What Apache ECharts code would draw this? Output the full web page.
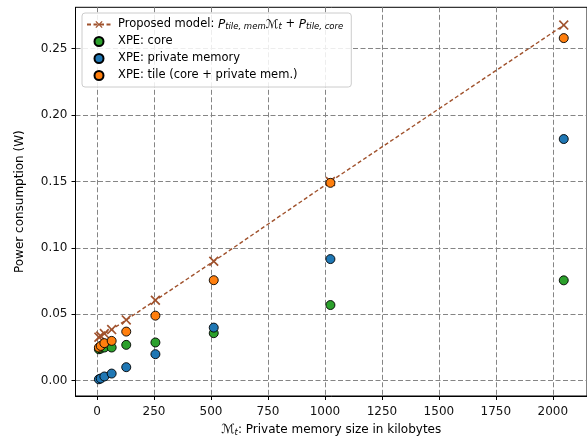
<!DOCTYPE html>
<html>
<head>
<meta charset="utf-8">
<script src="https://cdn.jsdelivr.net/npm/echarts@6/dist/echarts.min.js"></script>
<style>
html,body{margin:0;padding:0;background:#fff;}
#chart{width:587px;height:444px;}
</style>
</head>
<body>
<div id="chart"></div>
<script>
// Private memory sizes (kB)
const memSizes = [8, 16, 32, 64, 128, 256, 512, 1024, 2048];
// Proposed model power (W)
const modelPower = [0.0328, 0.0337, 0.0355, 0.0385, 0.0458, 0.0606, 0.0900, 0.1500, 0.2678];
// XPE: core (W)
const corePower = [0.0237, 0.0242, 0.0250, 0.0250, 0.0270, 0.0288, 0.0358, 0.0570, 0.0756];
// XPE: private memory (W)
const memPower = [0.0011, 0.0017, 0.0032, 0.0054, 0.0102, 0.0200, 0.0400, 0.0916, 0.1820];
// XPE: tile (W)
const tilePower = [0.0250, 0.0262, 0.0283, 0.0300, 0.0370, 0.0490, 0.0757, 0.1490, 0.2580];
// tick labels
const xTicks = [0, 250, 500, 750, 1000, 1250, 1500, 1750, 2000];
const yTicks = [0, 0.05, 0.10, 0.15, 0.20, 0.25];

const seriesNames = ['model', 'XPE: core', 'XPE: private memory', 'XPE: tile (core + private mem.)'];

const pairs = (xs, ys) => xs.map((x, i) => [x, ys[i]]);

const xMark = 'path://M0,1.2L1.2,0L5,3.8L8.8,0L10,1.2L6.2,5L10,8.8L8.8,10L5,6.2L1.2,10L0,8.8L3.8,5Z';
const FONT = 'DejaVu Sans';
const gridColor = '#858585';

const chart = echarts.init(document.getElementById('chart'), null, {renderer: 'canvas'});

function scatter(name, data, color, z) {
  return {
    name: name, type: 'scatter', data: data, z: z,
    symbol: 'circle', symbolSize: 9,
    itemStyle: {color: color, borderColor: '#000', borderWidth: 0.9, opacity: 1},
    emphasis: {disabled: true}
  };
}

chart.setOption({
  animation: false,
  backgroundColor: '#fff',
  grid: {left: 75.5, top: 7.3, right: -10, bottom: 48, show: true, borderColor: '#000', borderWidth: 1, backgroundColor: 'transparent'},
  legend: {
    orient: 'vertical', left: 82, top: 13,
    padding: [5, 8, 5, 4],
    itemWidth: 24, itemHeight: 9, itemGap: 4,
    backgroundColor: 'rgba(255,255,255,0.85)',
    borderColor: '#cccccc', borderWidth: 1, borderRadius: 3,
    data: seriesNames,
    textStyle: {
      fontFamily: FONT, fontSize: 11.5, color: '#000', lineHeight: 13, padding: [0, 0, 0, 2],
      rich: {
        n: {fontFamily: FONT, fontSize: 11.5, color: '#000', lineHeight: 13},
        i: {fontFamily: FONT, fontSize: 12, fontStyle: 'italic', color: '#000', lineHeight: 13},
        c: {fontFamily: FONT, fontSize: 12, color: '#000', lineHeight: 13},
        s: {fontFamily: FONT, fontSize: 8.5, fontStyle: 'italic', color: '#000', lineHeight: 13, verticalAlign: 'bottom', padding: [4, 0, 0, 0]}
      }
    },
    formatter: function (name) {
      if (name === 'model') {
        return '{n|Proposed model: }{i|P}{s|tile, mem}{c|ℳ}{s|t}{n| + }{i|P}{s|tile, core}';
      }
      return name;
    }
  },
  xAxis: {
    type: 'value', min: -94.7, max: 2150,
    name: '{c|ℳ}{s|t}{n|: Private memory size in kilobytes}',
    nameLocation: 'middle', nameGap: 27,
    nameTextStyle: {
      fontFamily: FONT, fontSize: 12, color: '#000',
      rich: {
        n: {fontFamily: FONT, fontSize: 12, color: '#000'},
        c: {fontFamily: FONT, fontSize: 12.5, color: '#000'},
        s: {fontFamily: FONT, fontSize: 8.5, fontStyle: 'italic', color: '#000', verticalAlign: 'bottom', padding: [5, 0, 0, 0]}
      }
    },
    axisLine: {show: true, onZero: false, lineStyle: {color: '#000', width: 1}},
    axisTick: {show: true, length: 4, lineStyle: {color: '#000'}, customValues: xTicks},
    axisLabel: {fontFamily: FONT, fontSize: 12, color: '#111', margin: 10, customValues: xTicks, formatter: v => String(Math.round(v))},
    splitLine: {show: true, lineStyle: {color: gridColor, type: [5, 2.5], width: 1}}
  },
  yAxis: {
    type: 'value', min: -0.0115, max: 0.2812,
    name: 'Power consumption (W)',
    nameLocation: 'middle', nameGap: 50,
    nameTextStyle: {fontFamily: FONT, fontSize: 12, color: '#000'},
    axisLine: {show: true, onZero: false, lineStyle: {color: '#000', width: 1}},
    axisTick: {show: true, length: 4, lineStyle: {color: '#000'}, customValues: yTicks},
    axisLabel: {fontFamily: FONT, fontSize: 12, color: '#111', margin: 8, customValues: yTicks, formatter: v => v.toFixed(2)},
    splitLine: {show: true, lineStyle: {color: gridColor, type: [5, 2.5], width: 1}}
  },
  series: [
    {
      name: 'model', type: 'line', data: pairs(memSizes, modelPower), z: 2,
      symbol: xMark, symbolSize: 10, showSymbol: true,
      lineStyle: {color: '#a0522d', width: 1.4, type: [4, 2.5]},
      itemStyle: {color: '#a0522d', borderWidth: 0},
      emphasis: {disabled: true}
    },
    scatter('XPE: core', pairs(memSizes, corePower), '#2ca02c', 3),
    scatter('XPE: private memory', pairs(memSizes, memPower), '#1f77b4', 4),
    scatter('XPE: tile (core + private mem.)', pairs(memSizes, tilePower), '#ff7f0e', 5)
  ]
});
</script>
</body>
</html>
